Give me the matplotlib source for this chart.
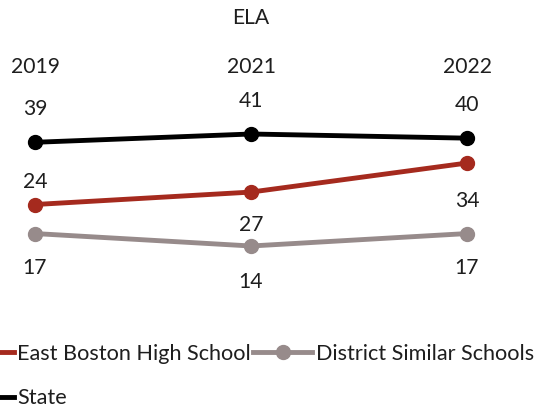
import matplotlib
matplotlib.use("Agg")
import matplotlib.pyplot as plt

plt.rcParams['font.family'] = ['Lato', 'DejaVu Sans']

years = ['2019', '2021', '2022']
east_boston = [24, 27, 34]
district_similar = [17, 14, 17]
state = [39, 41, 40]

RED = '#A52A1E'
GRAY = '#978B8B'
BLACK = '#000000'

W, H = 540, 409
fig = plt.figure(figsize=(W / 100, H / 100), dpi=100)
# axes box in pixel terms: x from 35 to 467, y from 134 to 246
ax = fig.add_axes([35 / W, 1 - 246 / H, (467 - 35) / W, (246 - 134) / H])
ax.set_xlim(0, 2)
ax.set_ylim(14, 41)

x = range(len(years))
l_red, = ax.plot(x, east_boston, color=RED, lw=3.5, marker='o', ms=10, clip_on=False,
                 label='East Boston High School')
l_gray, = ax.plot(x, district_similar, color=GRAY, lw=3.5, marker='o', ms=10, clip_on=False,
                  label='District Similar Schools')
l_black, = ax.plot(x, state, color=BLACK, lw=3.5, marker='o', ms=10, clip_on=False,
                   label='State')

fs = 15.2
txt = '#1e1e1e'
# value labels (offsets in points)
state_off = [24, 24, 24]
red_off = [16, -24, -27]
gray_off = [-25, -26, -25]
for series, offs in ((state, state_off), (east_boston, red_off), (district_similar, gray_off)):
    for i, (v, o) in enumerate(zip(series, offs)):
        ax.annotate(str(v), (i, v), xytext=(0, o), textcoords='offset points',
                    ha='center', va='center', fontsize=fs, color=txt)

ax.xaxis.tick_top()
ax.set_xticks(list(x))
ax.set_xticklabels(years, fontsize=fs, color=txt)
ax.tick_params(axis='x', length=0, pad=41)
ax.set_yticks([])
for s in ax.spines.values():
    s.set_visible(False)

fig.text(251 / W, 1 - 18 / H, 'ELA', ha='center', va='center', fontsize=fs, color=txt)

fig.legend(handles=[l_red, l_black, l_gray], ncol=2, loc='center left',
           bbox_to_anchor=(-46 / W, 1 - 376 / H), frameon=False, fontsize=15.6,
           handlelength=2.75, handletextpad=0.15, columnspacing=0.1,
           labelspacing=1.15, borderpad=0, borderaxespad=0, labelcolor=txt)

fig.savefig('out.png', dpi=100)
